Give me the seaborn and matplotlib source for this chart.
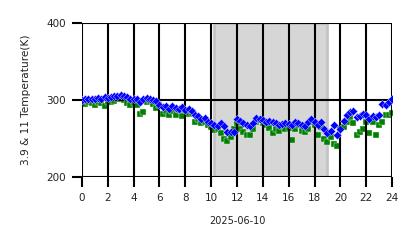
import numpy as np
import pandas as pd
import matplotlib
matplotlib.use("Agg")
import matplotlib.pyplot as plt
import seaborn as sns

hours = [i * 0.25 for i in range(97)]

t39 = [300, 301, 302, 301, 302, 303, 302, 304, 303, 304, 305, 305, 306, 305, 304, 302,
       301, 302, 298, 302, 303, 302, 300, 299, 294, 291, 292, 289, 292, 290, 289, 291,
       287, 288, 286, 281, 279, 276, 277, 272, 270, 268, 266, 270, 266, 258, 259, 258,
       276, 273, 270, 268, 266, 270, 277, 276, 274, 272, 273, 271, 270, 268, 269, 270,
       269, 268, 271, 270, 268, 266, 271, 275, 272, 267, 271, 262, 257, 260, 268, 255,
       262, 273, 280, 285, 286, 278, 279, 282, 280, 276, 279, 278, 280, 295, 294, 298,
       302]

t11 = [297, 295, 298, 296, 294, 297, 296, 292, 297, 298, 299, 301, 302, 300, 296, 294,
       296, 293, 282, 285, 298, 299, 295, 290, 293, 282, 286, 280, 286, 280, 287, 279,
       287, 282, 283, 271, 276, 270, 272, 268, 265, 261, 263, 257, 250, 247, 252, 262,
       270, 262, 258, 254, 255, 262, 272, 274, 270, 268, 264, 257, 262, 260, 266, 262,
       264, 248, 263, 267, 260, 258, 262, 272, 268, 255, 265, 250, 246, 252, 243, 240,
       262, 265, 272, 278, 270, 255, 258, 262, 271, 257, 272, 255, 268, 272, 280, 281,
       283]

night_start, night_end = 10.25, 19.0
xticks = list(range(0, 25, 2))
yticks = [200, 300, 400]

df = pd.DataFrame({"hour": hours, "t39": t39, "t11": t11})

sns.set_style("white")
fig = plt.figure(figsize=(4.18, 2.48), dpi=100)
ax = fig.add_axes([0.196, 0.286, 0.742, 0.621])

ax.axvspan(night_start, night_end, facecolor="#d6d6d6", edgecolor="#c4c4c4",
           linewidth=2, zorder=0)

sns.scatterplot(data=df, x="hour", y="t11", ax=ax, marker="s", color="green",
                s=14, edgecolor="#dff0df", linewidth=0.3, zorder=2)
sns.scatterplot(data=df, x="hour", y="t39", ax=ax, marker="D", color="blue",
                s=18, edgecolor="#d0d0ff", linewidth=0.3, zorder=3)

ax.set_xlim(0, 24)
ax.set_ylim(200, 400)
ax.set_xticks(xticks)
ax.set_yticks(yticks)
ax.grid(True, color="black", linewidth=1.5, zorder=5)
ax.set_axisbelow(False)
for sp in ax.spines.values():
    sp.set_visible(False)
ax.tick_params(axis="both", which="major", direction="out", length=7.5, width=1.5,
               color="black", labelsize=7.5, labelcolor="#222222", pad=4,
               bottom=True, left=True)
ax.set_xlabel("2025-06-10", fontsize=7, color="#222222", labelpad=9)
ax.set_ylabel("3.9 & 11 Temperature(K)", fontsize=7.6, color="#222222", labelpad=11)

fig.savefig("out.png", dpi=100)
